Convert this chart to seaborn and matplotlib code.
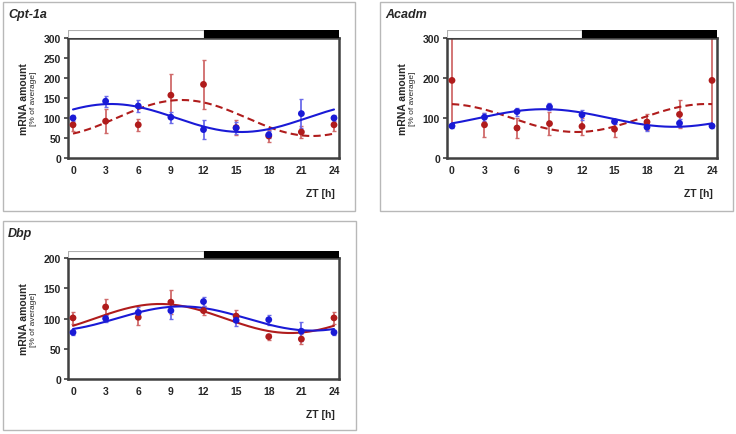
import numpy as np
import pandas as pd
import matplotlib
matplotlib.use("Agg")
import matplotlib.pyplot as plt
from matplotlib.patches import Rectangle
import seaborn as sns

zt = [0, 3, 6, 9, 12, 15, 18, 21, 24]

# Cpt-1a
cpt_blue = [100, 142, 130, 102, 71, 75, 58, 111, 100]
cpt_blue_err = [8, 14, 15, 14, 23, 14, 9, 37, 8]
cpt_red = [83, 92, 83, 157, 184, 76, 55, 65, 83]
cpt_red_err = [15, 30, 15, 54, 61, 18, 14, 16, 15]
# cosinor fits: mesor, amplitude, peak time
cpt_blue_fit = (100, 35, 3.5)
cpt_red_fit = (100, 45, 10.0)

# Acadm
aca_blue = [80, 102, 116, 128, 108, 91, 77, 87, 80]
aca_blue_err = [5, 10, 10, 9, 12, 7, 10, 10, 5]
aca_red = [194, 83, 75, 86, 79, 72, 90, 109, 194]
aca_red_err = [112, 30, 24, 28, 22, 20, 20, 35, 112]
aca_blue_fit = (100, 22, 8.5)
aca_red_fit = (100, 35, 23.5)

# Dbp
dbp_blue = [77, 100, 110, 113, 128, 97, 98, 79, 77]
dbp_blue_err = [4, 5, 9, 13, 7, 9, 8, 16, 4]
dbp_red = [101, 119, 102, 127, 113, 104, 70, 66, 101]
dbp_red_err = [10, 14, 12, 20, 8, 10, 5, 8, 10]
dbp_blue_fit = (100, 20, 10.0)
dbp_red_fit = (100, 24, 8.0)

# light phase until ZT12, dark phase after
lights_off = 12

BLUE = "#1a1ad6"
BLUE_ERR = "#6b6bea"
RED = "#b01c1c"
RED_ERR = "#d06a6a"
SPINE = "#404040"
XLIM = (-0.46, 24.46)

sns.set_style("white")
plt.rcParams["font.family"] = ["Liberation Sans", "DejaVu Sans"]

W, H = 736, 435
fig = plt.figure(figsize=(W / 100, H / 100), dpi=100)


def fig_rect(x0, y0, x1, y1):
    # pixel box (top-left origin) -> figure fraction rect
    return [x0 / W, 1 - y1 / H, (x1 - x0) / W, (y1 - y0) / H]


def cosinor(params, t):
    mesor, amp, peak = params
    return mesor + amp * np.cos(2 * np.pi * (t - peak) / 24)


def draw_panel(box, ax_px, bar_px, title, ymax, ystep,
               blue, blue_err, red, red_err, blue_fit, red_fit, red_dashed):
    fig.patches.append(Rectangle((box[0], box[1]), box[2], box[3],
                                 transform=fig.transFigure, fill=False,
                                 edgecolor="#b8b8b8", lw=1))
    ax = fig.add_axes(fig_rect(*ax_px))
    bx = fig.add_axes(fig_rect(*bar_px))

    t = np.linspace(0, 24, 200)
    curves = pd.DataFrame({
        "ZT": np.concatenate([t, t]),
        "value": np.concatenate([cosinor(red_fit, t), cosinor(blue_fit, t)]),
        "group": ["red"] * len(t) + ["blue"] * len(t),
    })
    pts = pd.DataFrame({"ZT": zt * 2, "value": red + blue,
                        "err": red_err + blue_err,
                        "group": ["red"] * len(zt) + ["blue"] * len(zt)})

    for g, ec in [("red", RED_ERR), ("blue", BLUE_ERR)]:
        d = pts[pts.group == g]
        ax.errorbar(d.ZT, d.value, yerr=d.err, fmt="none", ecolor=ec,
                    elinewidth=1.3, capsize=1.5, capthick=1, zorder=2)

    sns.lineplot(data=curves[curves.group == "red"], x="ZT", y="value",
                 color=RED, lw=1.5, ax=ax, zorder=3)
    if red_dashed:
        ax.lines[-1].set_dashes((3.5, 2))
    sns.lineplot(data=curves[curves.group == "blue"], x="ZT", y="value",
                 color=BLUE, lw=1.5, ax=ax, zorder=3)
    sns.scatterplot(data=pts, x="ZT", y="value", hue="group",
                    palette={"red": RED, "blue": BLUE}, s=24,
                    edgecolor="none", legend=False, ax=ax, zorder=4)

    ax.set_xlim(*XLIM)
    ax.set_ylim(0, ymax)
    ax.set_xticks(zt)
    ax.set_yticks(np.arange(0, ymax + 1, ystep))
    ax.set_xlabel("")
    ax.set_ylabel("")
    ax.tick_params(axis="x", length=0, pad=5, labelsize=7.5)
    ax.tick_params(axis="y", length=3, width=1.2, color=SPINE, pad=2,
                   labelsize=7.5, left=True)
    for lab in ax.get_xticklabels() + ax.get_yticklabels():
        lab.set_fontweight("bold")
    for s in ax.spines.values():
        s.set_color(SPINE)
        s.set_linewidth(1.8)

    ax.text(-0.162, 0.5, "mRNA amount", transform=ax.transAxes, rotation=90,
            ha="center", va="center", fontsize=7.5, fontweight="bold")
    ax.text(-0.128, 0.5, "[% of average]", transform=ax.transAxes,
            rotation=90, ha="center", va="center", fontsize=6)
    ax.text(0.985, -0.29, "ZT [h]", transform=ax.transAxes, ha="right",
            va="center", fontsize=7.5, fontweight="bold")

    bx.broken_barh([(XLIM[0], lights_off - XLIM[0]),
                    (lights_off, XLIM[1] - lights_off)], (0, 1),
                   facecolors=["white", "black"],
                   edgecolor=["#b0b0b0", "black"], lw=0.8)
    bx.set_xlim(*XLIM)
    bx.set_ylim(0, 1)
    bx.axis("off")

    fig.text((box[0] * W + 5) / W, 1 - (H - (box[1] + box[3]) * H + 12) / H,
             title, fontsize=9, fontweight="bold", style="italic",
             ha="left", va="center")
    return ax


def px_box(x0, y0, x1, y1):
    return (x0 / W, 1 - y1 / H, (x1 - x0) / W, (y1 - y0) / H)


draw_panel(px_box(3, 3, 355, 212), (68, 39, 339, 159), (68, 31, 339, 39),
           "Cpt-1a", 300, 50, cpt_blue, cpt_blue_err, cpt_red, cpt_red_err,
           cpt_blue_fit, cpt_red_fit, True)
draw_panel(px_box(380, 3, 733, 212), (447, 39, 717, 159), (447, 31, 717, 39),
           "Acadm", 300, 100, aca_blue, aca_blue_err, aca_red, aca_red_err,
           aca_blue_fit, aca_red_fit, True)
draw_panel(px_box(3, 222, 356, 431), (68, 259, 339, 380), (68, 252, 339, 259),
           "Dbp", 200, 50, dbp_blue, dbp_blue_err, dbp_red, dbp_red_err,
           dbp_blue_fit, dbp_red_fit, False)

fig.savefig("out.png", dpi=100)
